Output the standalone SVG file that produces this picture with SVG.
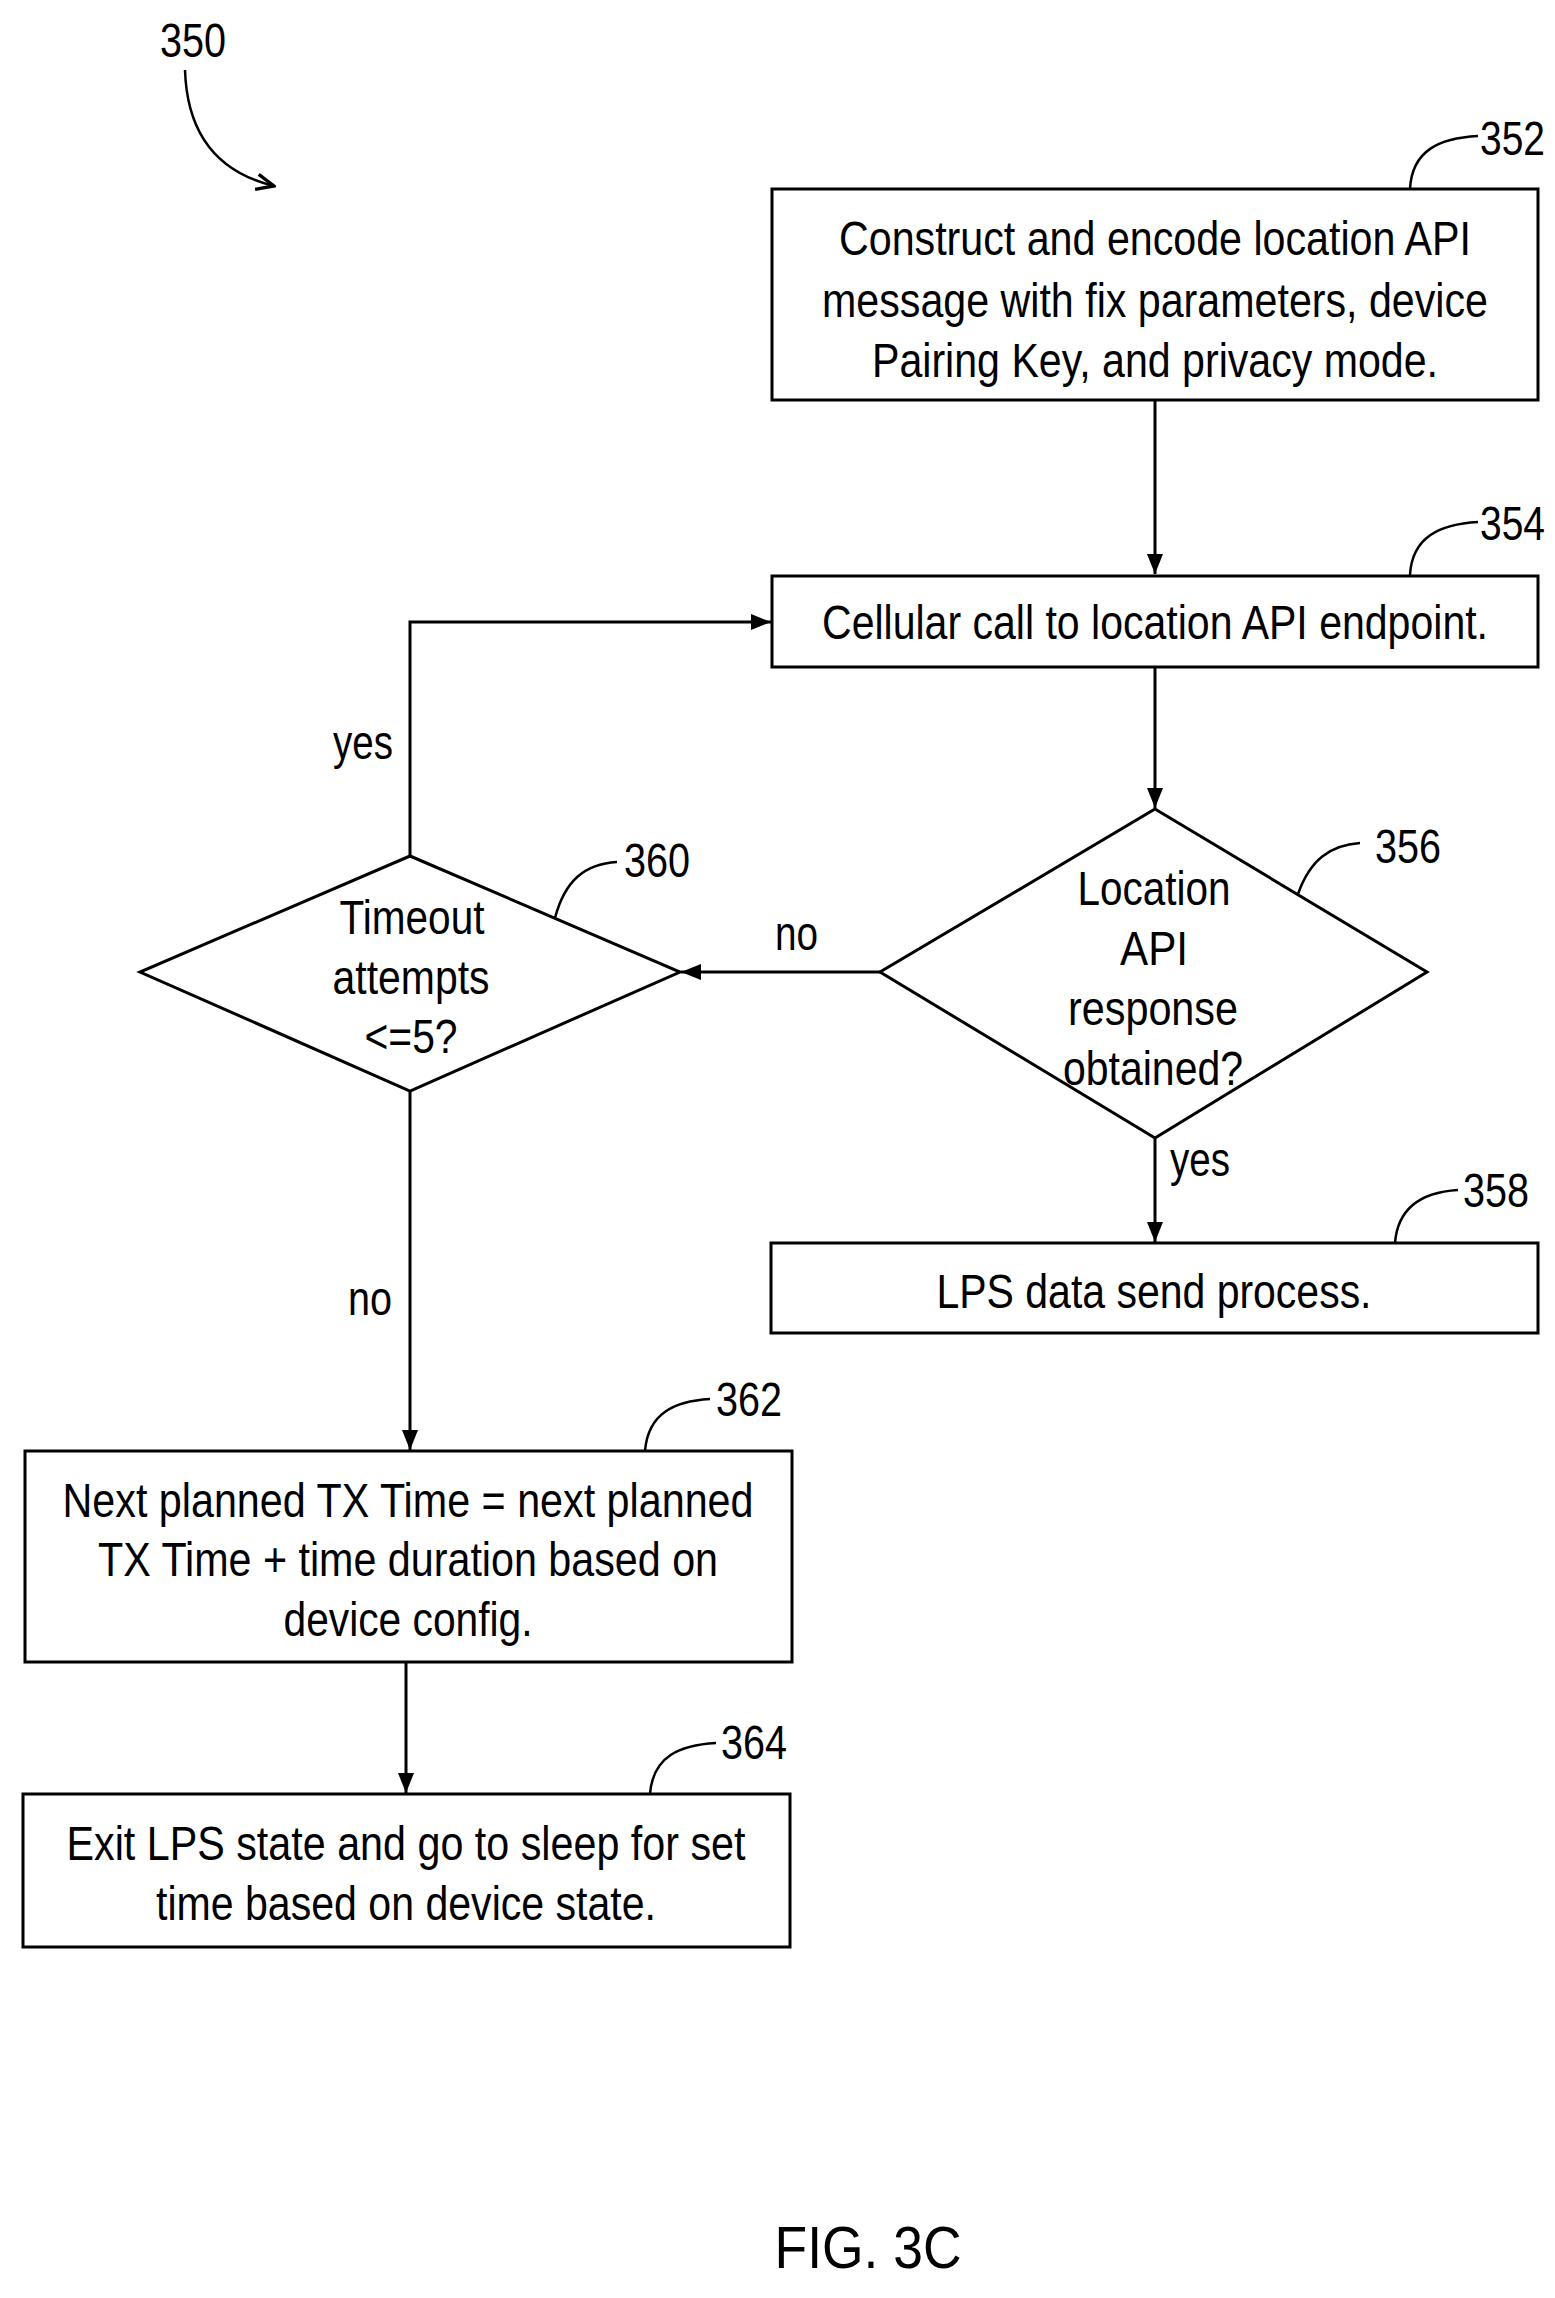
<svg xmlns="http://www.w3.org/2000/svg" width="1555" height="2298" viewBox="0 0 1555 2298">
<defs>
<marker id="ah" viewBox="0 0 20 16" refX="20" refY="8" markerWidth="20" markerHeight="16" markerUnits="userSpaceOnUse" orient="auto"><path d="M0,0 L20,8 L0,16 Z" fill="#000"/></marker>
<marker id="oa" viewBox="0 0 20 20" refX="18" refY="10" markerWidth="22" markerHeight="22" markerUnits="userSpaceOnUse" orient="auto"><path d="M2,3 L18,10 L2,17" fill="none" stroke="#000" stroke-width="3"/></marker>
</defs>
<style>
.b{fill:#fff;stroke:#000;stroke-width:3}
.t{font-family:"Liberation Sans",Arial,sans-serif;font-size:48px;fill:#000;text-anchor:middle}
.n{font-family:"Liberation Sans",Arial,sans-serif;font-size:48px;fill:#000}
.c{fill:none;stroke:#000;stroke-width:3}
.l{fill:none;stroke:#000;stroke-width:2.5}
</style>
<rect width="1555" height="2298" fill="#fff"/>
<g id="label350">
<text class="n" x="160" y="57" textLength="66" lengthAdjust="spacingAndGlyphs">350</text>
<path class="l" d="M185,70 Q188,165 274,186" marker-end="url(#oa)"/>
</g>
<g id="connectors">
<path class="c" d="M1155,400 V574" marker-end="url(#ah)"/>
<path class="c" d="M1155,667 V808" marker-end="url(#ah)"/>
<path class="c" d="M880,972 H681" marker-end="url(#ah)"/>
<path class="c" d="M410,856 V622 H771" marker-end="url(#ah)"/>
<path class="c" d="M1155,1138 V1242" marker-end="url(#ah)"/>
<path class="c" d="M410,1091 V1450" marker-end="url(#ah)"/>
<path class="c" d="M406,1662 V1793" marker-end="url(#ah)"/>
<text class="n" x="333" y="759" textLength="60" lengthAdjust="spacingAndGlyphs">yes</text>
<text class="n" x="775" y="950" textLength="43" lengthAdjust="spacingAndGlyphs">no</text>
<text class="n" x="1170" y="1176" textLength="60" lengthAdjust="spacingAndGlyphs">yes</text>
<text class="n" x="348" y="1315" textLength="44" lengthAdjust="spacingAndGlyphs">no</text>
</g>
<g id="n352">
<rect class="b" x="772" y="189" width="766" height="211"/>
<text class="t" x="1155" y="255" textLength="632" lengthAdjust="spacingAndGlyphs">Construct and encode location API</text>
<text class="t" x="1155" y="317" textLength="666" lengthAdjust="spacingAndGlyphs">message with fix parameters, device</text>
<text class="t" x="1155" y="377" textLength="566" lengthAdjust="spacingAndGlyphs">Pairing Key, and privacy mode.</text>
<path class="l" d="M1410,189 C1412,150 1440,138 1478,136"/>
<text class="n" x="1480" y="155" textLength="65" lengthAdjust="spacingAndGlyphs">352</text>
</g>
<g id="n354">
<rect class="b" x="772" y="576" width="766" height="91"/>
<text class="t" x="1155" y="639" textLength="666" lengthAdjust="spacingAndGlyphs">Cellular call to location API endpoint.</text>
<path class="l" d="M1410,575 C1412,537 1440,524 1478,522"/>
<text class="n" x="1480" y="540" textLength="65" lengthAdjust="spacingAndGlyphs">354</text>
</g>
<g id="n356">
<path class="b" d="M1155,809 L1427,972 L1155,1138 L880,972 Z"/>
<text class="t" x="1154" y="905" textLength="153" lengthAdjust="spacingAndGlyphs">Location</text>
<text class="t" x="1154" y="965" textLength="68" lengthAdjust="spacingAndGlyphs">API</text>
<text class="t" x="1153" y="1025" textLength="170" lengthAdjust="spacingAndGlyphs">response</text>
<text class="t" x="1153" y="1085" textLength="180" lengthAdjust="spacingAndGlyphs">obtained?</text>
<path class="l" d="M1298,894 C1310,860 1330,845 1360,843"/>
<text class="n" x="1375" y="863" textLength="66" lengthAdjust="spacingAndGlyphs">356</text>
</g>
<g id="n360">
<path class="b" d="M410,856 L680,972 L410,1091 L140,972 Z"/>
<text class="t" x="412" y="934" textLength="145" lengthAdjust="spacingAndGlyphs">Timeout</text>
<text class="t" x="411" y="994" textLength="157" lengthAdjust="spacingAndGlyphs">attempts</text>
<text class="t" x="411" y="1053" textLength="93" lengthAdjust="spacingAndGlyphs">&lt;=5?</text>
<path class="l" d="M555,918 C565,880 585,864 617,862"/>
<text class="n" x="624" y="877" textLength="66" lengthAdjust="spacingAndGlyphs">360</text>
</g>
<g id="n358">
<rect class="b" x="771" y="1243" width="767" height="90"/>
<text class="t" x="1154" y="1308" textLength="435" lengthAdjust="spacingAndGlyphs">LPS data send process.</text>
<path class="l" d="M1395,1243 C1398,1205 1425,1192 1458,1190"/>
<text class="n" x="1463" y="1207" textLength="66" lengthAdjust="spacingAndGlyphs">358</text>
</g>
<g id="n362">
<rect class="b" x="25" y="1451" width="767" height="211"/>
<text class="t" x="408" y="1517" textLength="691" lengthAdjust="spacingAndGlyphs">Next planned TX Time = next planned</text>
<text class="t" x="408" y="1576" textLength="620" lengthAdjust="spacingAndGlyphs">TX Time + time duration based on</text>
<text class="t" x="408" y="1636" textLength="249" lengthAdjust="spacingAndGlyphs">device config.</text>
<path class="l" d="M645,1451 C648,1413 675,1401 710,1399"/>
<text class="n" x="716" y="1416" textLength="66" lengthAdjust="spacingAndGlyphs">362</text>
</g>
<g id="n364">
<rect class="b" x="23" y="1794" width="767" height="153"/>
<text class="t" x="406" y="1860" textLength="679" lengthAdjust="spacingAndGlyphs">Exit LPS state and go to sleep for set</text>
<text class="t" x="406" y="1920" textLength="500" lengthAdjust="spacingAndGlyphs">time based on device state.</text>
<path class="l" d="M650,1794 C653,1756 680,1745 716,1743"/>
<text class="n" x="721" y="1759" textLength="66" lengthAdjust="spacingAndGlyphs">364</text>
</g>
<text class="t" x="868" y="2268" style="font-size:60px" textLength="187" lengthAdjust="spacingAndGlyphs">FIG. 3C</text>
</svg>
